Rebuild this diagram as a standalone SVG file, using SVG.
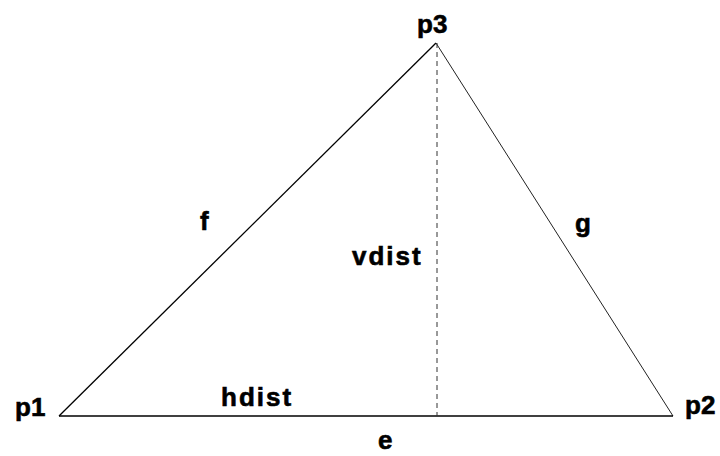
<svg xmlns="http://www.w3.org/2000/svg" width="720" height="456" viewBox="0 0 720 456">
<style>
text{font-family:"Liberation Sans",Arial,sans-serif;font-weight:bold;font-size:26px;fill:#000;stroke:#000;stroke-width:0.6}
.edge{stroke:#000;fill:none;stroke-width:1.3}
.thin{stroke:#222;fill:none;stroke-width:1}
.dash{stroke:#333;fill:none;stroke-width:1;stroke-dasharray:5 4}
</style>
<rect width="720" height="456" fill="#fff"/>
<g id="connectors">
<line id="f" class="edge" x1="59" y1="416" x2="436" y2="43"/>
<line id="g" class="thin" x1="436" y1="43" x2="673" y2="416"/>
<line id="e" class="edge" x1="59" y1="416" x2="673" y2="416"/>
<line id="vdist" class="dash" x1="437" y1="43" x2="437" y2="416"/>
</g>
<g id="node-p1"><text x="15" y="416">p1</text></g>
<g id="node-p2"><text x="685" y="414">p2</text></g>
<g id="node-p3"><text x="417" y="33">p3</text></g>
<g id="labels">
<text x="200" y="230">f</text>
<text x="575" y="232">g</text>
<text x="352" y="265" letter-spacing="2">vdist</text>
<text x="221" y="406" letter-spacing="2">hdist</text>
<text x="378" y="449">e</text>
</g>
</svg>
